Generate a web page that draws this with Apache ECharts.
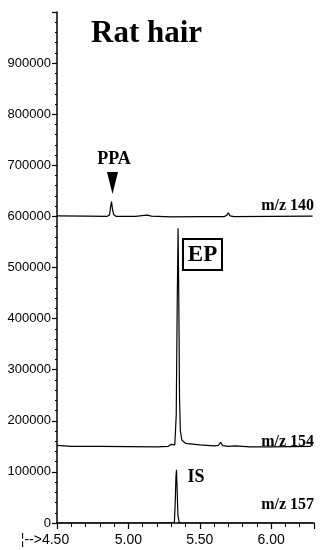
<!DOCTYPE html>
<html>
<head>
<meta charset="utf-8">
<script src="https://cdn.jsdelivr.net/npm/echarts@6/dist/echarts.min.js"></script>
<style>html,body{margin:0;padding:0;background:#fff}#c{width:328px;height:550px}</style>
</head>
<body>
<div id="c"></div>
<script>
// Retention time (min) and abundance
var t140 = [4.50, 4.70, 4.85, 4.868, 4.876, 4.882, 4.889, 4.898, 4.915, 5.05, 5.11, 5.135, 5.16, 5.30, 5.50, 5.67, 5.69, 5.70, 5.712, 5.74, 6.00, 6.29];
var v140 = [601000, 600500, 600000, 603000, 620000, 629000, 613000, 603000, 600000, 600000, 602000, 602500, 600500, 599000, 599500, 599500, 602500, 607000, 601000, 599500, 600000, 600500];

var t154 = [4.50, 4.60, 4.80, 5.00, 5.20, 5.28, 5.30, 5.312, 5.325, 5.335, 5.342, 5.348, 5.353, 5.358, 5.364, 5.375, 5.40, 5.50, 5.60, 5.63, 5.646, 5.66, 5.70, 5.75, 5.85, 6.00, 6.28];
var v154 = [152000, 150000, 150000, 149500, 149000, 150000, 154000, 150500, 153000, 210000, 430000, 577000, 440000, 250000, 180000, 162000, 156000, 153000, 151000, 152000, 158000, 151500, 150000, 151000, 149000, 149000, 150000];

var t157 = [4.50, 5.20, 5.322, 5.328, 5.333, 5.337, 5.342, 5.347, 5.355, 5.37, 6.29];
var v157 = [0, 0, 1000, 40000, 90000, 104000, 60000, 15000, 2000, 0, 0];

var xMin = 4.5, xMax = 6.3, xInterval = 0.5;
var yMin = 0, yMax = 1000000, yInterval = 100000;

function zip(t, v) { return t.map(function (x, i) { return [x, v[i]]; }); }

var chart = echarts.init(document.getElementById('c'), null, { renderer: 'canvas' });
var serif = '"Liberation Serif", "Times New Roman", serif';
var narrow = '"Liberation Sans Narrow", "Liberation Sans", Arial, sans-serif';

var lineStyle = { color: '#000', width: 1.2 };
function trace(name, data) {
  return { name: name, type: 'line', data: data, symbol: 'none', lineStyle: lineStyle, silent: true, z: 3 };
}

chart.setOption({
  animation: false,
  backgroundColor: '#fff',
  title: {
    text: 'Rat hair', left: 86, top: 13,
    textStyle: { fontFamily: serif, fontWeight: 'bold', fontSize: 31, color: '#000' }
  },
  grid: { left: 57, right: 14, top: 12, bottom: 27, containLabel: false },
  xAxis: {
    type: 'value', min: xMin, max: xMax, interval: xInterval,
    axisLine: { lineStyle: { color: '#000', width: 1.5 } },
    axisTick: { show: true, inside: false, length: 6, lineStyle: { color: '#000', width: 1.2 } },
    minorTick: { show: true, splitNumber: 5, length: 4, lineStyle: { color: '#000', width: 1 } },
    splitLine: { show: false },
    axisLabel: {
      showMaxLabel: false, margin: 10, color: '#000', fontFamily: narrow, fontSize: 14,
      formatter: function (v) {
        var s = v.toFixed(2);
        return v === xMin ? '{p|\u00a6-->}{n|' + s + '}' : s;
      },
      rich: {
        p: { fontFamily: narrow, fontSize: 14, color: '#000' },
        n: { fontFamily: narrow, fontSize: 14, color: '#000', padding: [0, 24, 0, 0] }
      }
    }
  },
  yAxis: {
    type: 'value', min: yMin, max: yMax, interval: yInterval,
    axisLine: { show: true, lineStyle: { color: '#000', width: 1.5 } },
    axisTick: { show: true, length: 5, lineStyle: { color: '#000', width: 1.2 } },
    minorTick: { show: true, splitNumber: 5, length: 2, lineStyle: { color: '#000', width: 1 } },
    splitLine: { show: false },
    axisLabel: {
      showMaxLabel: false, margin: 6, color: '#000', fontFamily: narrow, fontSize: 13,
      formatter: function (v) { return String(v); }
    }
  },
  series: [
    trace('m/z 140', zip(t140, v140)),
    trace('m/z 154', zip(t154, v154)),
    trace('m/z 157', zip(t157, v157))
  ],
  graphic: [
    { type: 'text', style: { text: 'PPA', x: 114, y: 159, textAlign: 'center', textVerticalAlign: 'middle', font: 'bold 18px ' + serif, fill: '#000' } },
    { type: 'polygon', shape: { points: [[107, 172], [118, 172], [112.5, 194]] }, style: { fill: '#000' } },
    { type: 'text', style: { text: 'm/z 140', x: 314, y: 206, textAlign: 'right', textVerticalAlign: 'middle', font: 'bold 16px ' + serif, fill: '#000' } },
    { type: 'rect', shape: { x: 183, y: 239, width: 39, height: 31 }, style: { fill: '#fff', stroke: '#000', lineWidth: 2 } },
    { type: 'text', style: { text: 'EP', x: 202.5, y: 255, textAlign: 'center', textVerticalAlign: 'middle', font: 'bold 23px ' + serif, fill: '#000' } },
    { type: 'text', style: { text: 'm/z 154', x: 314, y: 442, textAlign: 'right', textVerticalAlign: 'middle', font: 'bold 16px ' + serif, fill: '#000' } },
    { type: 'text', style: { text: 'IS', x: 196, y: 477, textAlign: 'center', textVerticalAlign: 'middle', font: 'bold 18px ' + serif, fill: '#000' } },
    { type: 'text', style: { text: 'm/z 157', x: 314, y: 505, textAlign: 'right', textVerticalAlign: 'middle', font: 'bold 16px ' + serif, fill: '#000' } }
  ]
});
</script>
</body>
</html>
